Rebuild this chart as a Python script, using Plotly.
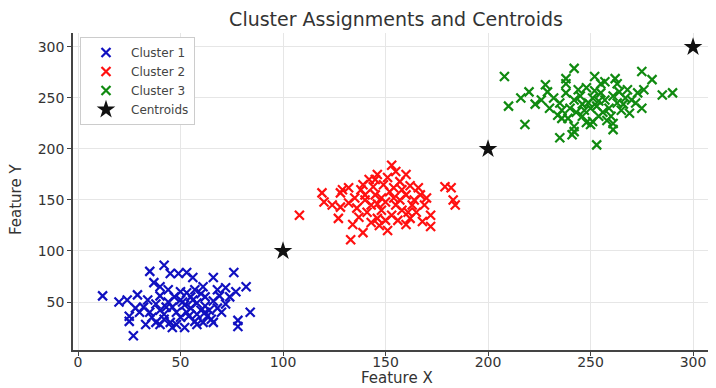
import plotly.graph_objects as go

# ---- data ----
c1_x = [12, 27, 42, 35, 76, 84, 78, 78, 25, 25, 33, 20, 24, 29, 66, 82, 45, 49, 53, 56, 37, 40, 44, 53, 61, 68, 72, 77,
        62, 69, 66, 54, 57, 65, 62, 42, 32, 35, 38, 40, 42, 44, 46, 48, 50, 52, 55, 58, 60, 47, 50, 55, 45, 50, 48, 53,
        58, 62, 64, 36, 38, 30, 28, 34, 40, 57, 60, 63, 68, 70, 72, 74, 66, 52, 46, 40, 58, 61, 43, 51, 56]
c1_y = [56, 17, 86, 80, 79, 40, 32, 26, 36, 31, 28, 50, 52, 57, 74, 65, 78, 78, 79, 74, 69, 65, 62, 59, 65, 62, 64, 60,
        55, 56, 51, 36, 31, 33, 40, 33, 45, 40, 48, 42, 38, 50, 45, 40, 52, 47, 44, 49, 42, 55, 60, 55, 30, 35, 28, 40,
        38, 46, 42, 35, 30, 40, 44, 52, 56, 62, 58, 36, 44, 40, 48, 55, 30, 25, 25, 28, 28, 30, 45, 50, 52]

c2_x = [108, 133, 153, 179, 182, 183, 184, 172, 172, 168, 160, 139, 134, 127, 119, 120, 129, 132, 128, 124, 128, 146,
        142, 160, 157, 167, 170, 162, 136, 140, 143, 145, 148, 150, 152, 155, 157, 153, 150, 146, 141, 138, 144, 149,
        154, 158, 160, 163, 165, 147, 143, 156, 151, 137, 135, 132, 139, 162, 148, 146, 154, 158, 164, 166, 140, 145,
        151, 155, 161, 169]
c2_y = [135, 111, 184, 163, 162, 150, 145, 135, 124, 129, 126, 118, 126, 132, 157, 148, 160, 162, 157, 145, 143, 175,
        170, 175, 168, 155, 152, 164, 142, 150, 145, 155, 140, 148, 158, 145, 150, 135, 130, 132, 138, 160, 163, 165,
        162, 140, 155, 145, 138, 125, 128, 130, 120, 133, 152, 147, 165, 132, 152, 146, 152, 160, 150, 162, 155, 170,
        172, 178, 138, 145]

c3_x = [208, 210, 218, 216, 220, 223, 235, 253, 242, 275, 280, 285, 290, 273, 276, 275, 269, 261, 261, 242, 242, 241,
        234, 236, 228, 229, 238, 238, 252, 255, 257, 262, 263, 250, 251, 232, 235, 238, 240, 242, 245, 247, 249, 251,
        253, 255, 257, 259, 261, 263, 265, 267, 244, 248, 252, 256, 260, 246, 243, 254, 264, 266, 268, 230, 226, 236,
        239, 258, 248, 270, 272, 250, 254, 246]
c3_y = [271, 242, 224, 250, 256, 244, 211, 204, 279, 276, 268, 253, 255, 255, 258, 240, 235, 225, 219, 217, 222, 214,
        233, 230, 263, 256, 269, 264, 271, 264, 266, 269, 264, 224, 227, 250, 245, 255, 240, 248, 252, 238, 245, 250,
        242, 255, 248, 240, 252, 245, 238, 250, 258, 260, 257, 236, 232, 232, 236, 232, 256, 244, 258, 240, 248, 238,
        230, 228, 226, 248, 245, 240, 247, 244]

cent_x = [100, 200, 300]
cent_y = [100, 200, 300]

series = [
    ("Cluster 1", c1_x, c1_y, "#1010c0"),
    ("Cluster 2", c2_x, c2_y, "#ff1010"),
    ("Cluster 3", c3_x, c3_y, "#108a10"),
]

fig = go.Figure()
for name, xs, ys, col in series:
    fig.add_trace(go.Scatter(
        x=xs, y=ys, mode="markers", name=name,
        marker=dict(symbol="x-thin", size=9, line=dict(width=2.2, color=col), color=col),
    ))
fig.add_trace(go.Scatter(
    x=cent_x, y=cent_y, mode="markers", name="Centroids",
    marker=dict(symbol="star", size=14, color="#111111", line=dict(width=0)),
))

font_family = "DejaVu Sans, sans-serif"
# page has an 8px body margin: figure is 708x380 so it ends at the window edge
W, H = 708, 380
L, R, T, B = 65, 0, 25, 38
PW, PH = W - L - R, H - T - B
fig.update_layout(
    width=W, height=H,
    margin=dict(l=L, r=R, t=T, b=B),
    paper_bgcolor="white", plot_bgcolor="white",
    font=dict(family=font_family, color="#333333", size=14),
    title=dict(text="Cluster Assignments and Centroids", x=388 / W, xanchor="center",
               y=1 - 11 / H, yanchor="middle", yref="container",
               font=dict(size=19, color="#333333")),
    showlegend=True,
    legend=dict(x=7 / PW, y=1 - 4 / PH, xanchor="left", yanchor="top",
                bgcolor="white", bordercolor="#cccccc", borderwidth=1,
                font=dict(size=12, color="#444444"), tracegroupgap=0,
                itemwidth=40),
)
axis_common = dict(showgrid=True, gridcolor="#e6e6e6", gridwidth=1,
                   showline=True, linecolor="#444444", linewidth=1.5,
                   ticks="outside", ticklen=4, tickcolor="#444444",
                   zeroline=False, mirror=False, tickfont=dict(size=14, color="#333333"))
fig.update_xaxes(range=[-2.44, 311.2], tickvals=[0, 50, 100, 150, 200, 250, 300],
                 ticklabelstandoff=-6, **axis_common)
fig.update_yaxes(range=[2.94, 313.7], tickvals=[50, 100, 150, 200, 250, 300], **axis_common)
fig.add_annotation(text="Feature X", xref="paper", yref="paper", x=(397 - 73) / PW, y=-28 / PH,
                   xanchor="center", yanchor="middle", showarrow=False,
                   font=dict(size=15, color="#333333"))
fig.add_annotation(text="Feature Y", xref="paper", yref="paper", x=-57 / PW, y=150 / PH,
                   xanchor="center", yanchor="middle", showarrow=False, textangle=-90,
                   font=dict(size=15, color="#333333"))

fig.write_html("out.html")
